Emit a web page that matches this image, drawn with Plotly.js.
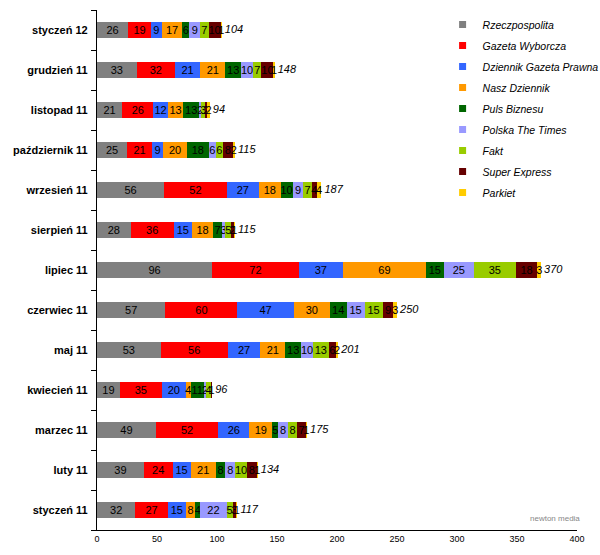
<!DOCTYPE html>
<html>
<head>
<meta charset="utf-8">
<script src="https://cdn.plot.ly/plotly-3.0.1.min.js"></script>
<style>html,body{margin:0;padding:0;background:#fff;}#chart{width:600px;height:555px;}</style>
</head>
<body>
<div id="chart"></div>
<script>
// categories bottom to top
const months = ["styczeń 11","luty 11","marzec 11","kwiecień 11","maj 11","czerwiec 11","lipiec 11","sierpień 11","wrzesień 11","październik 11","listopad 11","grudzień 11","styczeń 12"];
const seriesNames = ["Rzeczpospolita","Gazeta Wyborcza","Dziennik Gazeta Prawna","Nasz Dziennik","Puls Biznesu","Polska The Times","Fakt","Super Express","Parkiet"];
const rzeczpospolita = [32,39,49,19,53,57,96,28,56,25,21,33,26];
const gazetaWyborcza = [27,24,52,35,56,60,72,36,52,21,26,32,19];
const dziennikGP     = [15,15,26,20,27,47,37,15,27,9,12,21,9];
const naszDziennik   = [8,21,19,4,21,30,69,18,18,20,13,21,17];
const pulsBiznesu    = [4,8,5,11,13,14,15,7,10,18,13,13,6];
const polskaTimes    = [22,8,8,2,10,15,25,3,9,6,2,10,9];
const fakt           = [5,10,8,4,13,15,35,5,7,6,3,7,7];
const superExpress   = [3,8,7,1,6,9,18,2,4,8,2,10,10];
const parkiet        = [1,1,1,0,2,3,3,1,4,2,2,1,1];
const colors = ["#808080","#FF0000","#3366FF","#FF9900","#006600","#9999FF","#99CC00","#660000","#FFCC00"];

const all = [rzeczpospolita,gazetaWyborcza,dziennikGP,naszDziennik,pulsBiznesu,polskaTimes,fakt,superExpress,parkiet];
const totals = months.map((m,i)=>all.reduce((s,a)=>s+a[i],0));

const traces = all.map((vals,k)=>({
  type:'bar', orientation:'h', name:seriesNames[k], y:months, x:vals, showlegend:false,
  marker:{color:colors[k], line:{width:0}},
  text: vals.map(v=> v>0 ? String(v) : ''),
  textposition:'inside', insidetextanchor:'middle', textangle:0,
  textfont:{family:'Liberation Sans, Arial, sans-serif', size:11, color:'#000'},
  hoverinfo:'skip', cliponaxis:false
}));
traces.push({
  type:'scatter', mode:'text', y:months, x:totals, text:totals.map(t=>' '+t),
  textposition:'middle right', showlegend:false, hoverinfo:'skip',
  textfont:{family:'Liberation Sans, Arial, sans-serif', size:11, color:'#000', style:'italic'},
  cliponaxis:false
});
// legend entries with small square symbols
seriesNames.forEach((n,k)=>{
  traces.push({type:'scatter', mode:'markers', name:n, legendgroup:'g'+k, x:[-50], y:[months[0]],
    marker:{symbol:'square', size:7, color:colors[k]}, hoverinfo:'skip', cliponaxis:true, showlegend:true});
});

const layout = {
  width:600, height:555,
  margin:{l:97, r:23, t:10, b:25, autoexpand:false},
  barmode:'stack', bargap:0.58,
  paper_bgcolor:'#fff', plot_bgcolor:'#fff',
  font:{family:'Liberation Sans, Arial, sans-serif', color:'#000'},
  uniformtext:{mode:'show', minsize:11},
  xaxis:{range:[0,400], dtick:50, showgrid:false, zeroline:false, showline:true, linecolor:'#000', linewidth:1,
         ticks:'', tickfont:{size:9, color:'#000'}, fixedrange:true, automargin:false},
  yaxis:{type:'category', range:[-0.5, months.length-0.5], showgrid:false, showline:true, linecolor:'#000', linewidth:1,
         ticks:'outside', tickson:'boundaries', ticklen:5, tickcolor:'#000',
         tickfont:{size:11, color:'#000', weight:'bold'}, ticksuffix:'  ', automargin:false},
  legend:{x:0.72, y:1.0, xanchor:'left', yanchor:'top', traceorder:'grouped', tracegroupgap:2, bgcolor:'rgba(0,0,0,0)',
          font:{size:10.5, style:'italic', color:'#000'}, itemwidth:30},
  annotations:[{xref:'paper', yref:'paper', x:0.955, y:0.035, xanchor:'center', yanchor:'top', showarrow:false,
                text:'newton media', font:{size:8, color:'#888'}}],
  showlegend:true
};
Plotly.newPlot('chart', traces, layout, {displayModeBar:false, staticPlot:true});
</script>
</body>
</html>
